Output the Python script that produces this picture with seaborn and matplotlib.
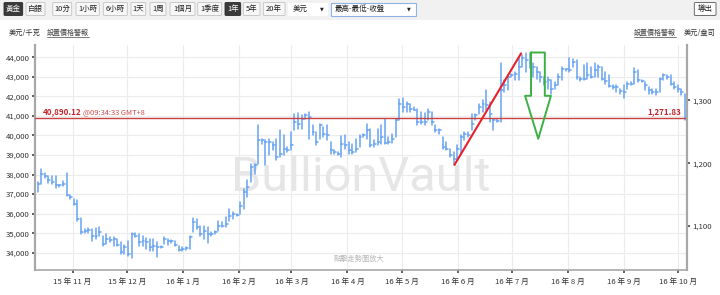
import numpy as np
import pandas as pd
import matplotlib
matplotlib.use("Agg")
import matplotlib.pyplot as plt
import matplotlib.dates as mdates
import matplotlib.ticker as mticker
from matplotlib.patches import FancyBboxPatch, Rectangle, Polygon
from matplotlib.lines import Line2D
import seaborn as sns

# ---------------- data ----------------
start_date = "2015-10-13"
bar_step = "2D"

high = [
    37612, 38296, 38091, 37920, 37920, 37920, 37475, 37646, 38074, 36962,
    36757, 36706, 35765, 35218, 35252, 35218, 35252, 35303, 34876, 34962,
    34790, 34790, 34705, 34534, 34398, 34620, 35000, 35000, 34962, 34876,
    34739, 34705, 34705, 34534, 34363, 34790, 34705,
    34654, 34620, 34363, 34278, 34278, 34876, 35765, 35731, 35389, 35355,
    35303, 35081, 35132, 35646, 35560, 35816, 36244, 36073, 35988, 36620,
    37236, 37697, 38553, 38553, 40553, 39835, 39750, 39835, 39664, 39835,
    40262, 40006, 39408, 40177, 41117,
    41160, 41033, 41118, 41204, 40520, 40178, 40605, 40434, 40520, 39665,
    39237, 39152, 39955, 40007, 39665, 39579, 39835, 40007, 40092, 40605,
    40349, 39750, 40349, 40520, 40862, 39921, 40092, 40862, 41888, 41939,
    41717, 41631, 41460, 41375, 41204, 41152,
    41374, 41203, 40519, 40348, 39920, 39664, 39322, 39151, 39493, 40006, 40177, 40177,
    41118, 41118, 41631, 41802, 42315, 41716, 40862, 40862, 43683, 42828,
    43085, 43170, 43256, 44025, 44111, 44196, 44196, 43683, 43512, 43256,
    43000, 43000, 42828, 42743, 43170,
    43512, 43426, 43939, 43905, 43854, 43000, 43597, 43683, 43512, 43683,
    43597, 43512, 43255, 43084, 42571, 42571, 42400, 42571, 42742, 42742,
    43460, 43340, 42828, 42742, 42485, 42400, 42400, 42947, 43170, 43084,
    43084, 42742, 42571, 42400, 42144,
]
low = [
    37099, 37527, 37817, 37578, 37527, 37304, 37355, 37407, 36894, 36757,
    36449, 35645, 34962, 35013, 35013, 34620, 34705, 34876, 34363, 34449,
    34534, 34329, 34363, 33936, 33936, 33850, 33713, 34790, 34363, 34363,
    34192, 34106, 34106, 33765, 34226, 34449, 34398,
    34500, 34363, 34106, 34106, 34158, 34192, 35047, 35218, 34876, 34705,
    34500, 34876, 34962, 35132, 35303, 35303, 35646, 35731, 35902, 35988,
    36244, 36842, 37612, 38040, 38553, 39578, 38467, 38980, 39237, 38724,
    38895, 38980, 39151, 39237, 40262,
    40350, 40349, 40862, 39835, 40006, 39494, 39835, 39921, 39750, 39066,
    39032, 39015, 38895, 39323, 39066, 39032, 39152, 39408, 39921, 39835,
    39408, 39408, 39494, 39579, 39545, 39579, 39613, 39921, 40776, 41204,
    41204, 41204, 41289, 40520, 40605, 40520,
    40776, 40519, 40177, 40092, 39322, 39236, 38894, 38552, 38809, 39066, 39749, 39920,
    40263, 40776, 41118, 41204, 41289, 40690, 40263, 40690, 40690, 42229,
    42315, 43000, 42828, 42828, 43512, 43256, 43427, 43000, 42914, 42743,
    42572, 42400, 42144, 42400, 42572,
    42828, 43289, 43255, 43512, 42913, 42793, 42828, 42913, 42947, 43000,
    43000, 42828, 42657, 42485, 42400, 42229, 42144, 41921, 42400, 42571,
    42657, 42742, 42742, 42315, 42144, 42144, 42058, 42229, 42828, 42913,
    42571, 42400, 42229, 42092, 40775,
]
close = [
    37530, 38040, 37950, 37700, 37610, 37440, 37440, 37520, 36930, 36840,
    36500, 35700, 35080, 35130, 35180, 34876, 34840, 35050, 34450, 34705,
    34650, 34705, 34400, 34020, 34277, 33936, 34960, 34876, 34534, 34620,
    34534, 34277, 34363, 34277, 34310, 34705, 34620,
    34620, 34414, 34157, 34192, 34226, 34790, 35560, 35303, 34962, 35132,
    34962, 34962, 35047, 35389, 35389, 35474, 35902, 35988, 35936, 36415,
    37100, 37356, 38382, 38467, 39750, 39750, 39664, 39664, 39493, 38895,
    39066, 39322, 39237, 39493, 40690,
    40600, 40862, 41033, 40947, 40178, 39665, 40520, 40092, 40007, 39237,
    39152, 39066, 39579, 39494, 39237, 39152, 39323, 39921, 40007, 40263,
    39494, 39579, 39665, 39921, 39613, 39665, 39835, 40776, 41631, 41460,
    41631, 41375, 41323, 40690, 40690, 40690,
    41203, 40690, 40262, 40262, 39408, 39322, 38980, 38809, 39322, 39921, 40092, 40006,
    40605, 41033, 41460, 41631, 41546, 41118, 40776, 40742, 42315, 42572,
    43000, 43085, 43170, 43512, 43940, 43854, 43683, 43512, 43256, 43000,
    42742, 42828, 42400, 42572, 43000,
    43426, 43392, 43340, 43768, 43000, 42913, 42879, 43084, 43000, 43340,
    43511, 42913, 42776, 42537, 42485, 42485, 42263, 42229, 42657, 42657,
    43255, 42828, 42776, 42571, 42315, 42229, 42229, 42913, 43084, 43000,
    42657, 42485, 42400, 42229, 40890.12,
]

last_price_kg = 40890.12
last_price_oz = 1271.83
last_time = "@09:34:33 GMT+8"
oz_per_kg = 32.1507

left_ticks = [34000, 35000, 36000, 37000, 38000, 39000, 40000, 41000, 42000, 43000, 44000]
right_ticks = [1100, 1200, 1300]
month_ticks = ["2015-11-01", "2015-12-01", "2016-01-01", "2016-02-01", "2016-03-01",
               "2016-04-01", "2016-05-01", "2016-06-01", "2016-07-01", "2016-08-01",
               "2016-09-01", "2016-10-01"]
month_labels = ["15 年 11 月", "15 年 12 月", "16 年 1 月", "16 年 2 月", "16 年 3 月",
                "16 年 4 月", "16 年 5 月", "16 年 6 月", "16 年 7 月", "16 年 8 月",
                "16 年 9 月", "16 年 10 月"]

x_range = ["2015-10-11 05:00", "2016-10-05 18:00"]
y_range = [33115, 44629]

# annotation (hand-drawn) shapes
trend_dates = ["2016-05-30 03:00", "2016-07-06 00:00"]
trend_vals = [38490, 44200]
arrow_dates = ["2016-07-11 12:00", "2016-07-19 03:00", "2016-07-19 03:00", "2016-07-22 12:00",
               "2016-07-15 12:00", "2016-07-08 05:00", "2016-07-11 12:00", "2016-07-11 12:00"]
arrow_vals = [44245, 44245, 42030, 42030, 39830, 42030, 42030, 44245]

toolbar_metals = ["黃金", "白銀"]
toolbar_ranges = ["10分", "1小時", "6小時", "1天", "1周", "1個月", "1季度", "1年", "5年", "20年"]

# ---------------- style ----------------
sns.set_theme(style="white")
plt.rcParams["font.family"] = ["Noto Sans CJK TC", "DejaVu Sans"]

W, H = 720, 295
fig = plt.figure(figsize=(W / 100, H / 100), dpi=100)
fig.patch.set_facecolor("white")

def fx(x):
    return x / W

def fy(y):
    return 1 - y / H

L, R, T, B = 35, 687, 45, 270
ax = fig.add_axes([fx(L), fy(B), fx(R) - fx(L), fy(T) - fy(B)])
ax.set_facecolor("white")

bar_color = "#66a3f2"
dates = pd.date_range(start_date, periods=len(high), freq=bar_step) - pd.Timedelta(hours=8)
n = len(dates)

seg = pd.DataFrame({
    "date": np.repeat(dates.values, 2),
    "price": np.column_stack([low, high]).ravel(),
    "bar": np.repeat(np.arange(n), 2),
})
sns.lineplot(data=seg, x="date", y="price", units="bar", estimator=None, sort=False,
             color=bar_color, lw=1.1, ax=ax, legend=False, zorder=3)

tick_dates = np.column_stack([dates.values, (dates + pd.Timedelta(hours=26)).values]).ravel()
ticks = pd.DataFrame({
    "date": tick_dates,
    "price": np.repeat(close, 2),
    "bar": np.repeat(np.arange(n), 2),
})
sns.lineplot(data=ticks, x="date", y="price", units="bar", estimator=None, sort=False,
             color=bar_color, lw=1.1, ax=ax, legend=False, zorder=3)

# trend line
trend = pd.DataFrame({"date": pd.to_datetime(trend_dates), "price": trend_vals})
sns.lineplot(data=trend, x="date", y="price", color="#e8202a", lw=1.5, ax=ax,
             legend=False, zorder=5)

# arrow outline
arr = pd.DataFrame({"date": pd.to_datetime(arrow_dates), "price": arrow_vals, "k": 0})
sns.lineplot(data=arr, x="date", y="price", units="k", estimator=None, sort=False,
             color="#3cb043", lw=1.4, ax=ax, legend=False, zorder=5)

# last price line
ax.axhline(last_price_kg, color="#c84040", lw=1.0, zorder=4)
yt = ax.get_yaxis_transform()
t1 = ax.text((42.7 - L) / (R - L), last_price_kg + 90, f"{last_price_kg:,.2f}", transform=yt,
             fontsize=5.8, fontweight="bold", color="#c0282d", va="bottom", ha="left", zorder=6)
ax.annotate(last_time, xy=(1, 0), xycoords=t1, xytext=(1.2, 0), textcoords="offset points",
            fontsize=5.4, color="#cf4a4a", va="bottom", ha="left", zorder=6)
ax.text((681 - L) / (R - L), last_price_kg + 90, f"{last_price_oz:,.2f}", transform=yt,
        fontsize=5.8, fontweight="bold", color="#c0282d", va="bottom", ha="right", zorder=6)

# watermark
ax.text(0.5, 0.35, "BullionVault", transform=ax.transAxes, fontsize=35, family="Roboto",
        color="#e6e6e6", ha="center", va="baseline", zorder=1)
ax.text((359.5 - L) / (R - L), (B - 259) / (B - T), "點擊走勢圖放大", transform=ax.transAxes,
        fontsize=5.2, color="#b8b8b8", ha="center", va="center", zorder=2)

# axes
ax.set_xlim(pd.to_datetime(x_range[0]), pd.to_datetime(x_range[1]))
ax.set_ylim(*y_range)
ax.set_xticks(pd.to_datetime(month_ticks))
ax.set_xticklabels(month_labels)
ax.set_yticks(left_ticks)
ax.yaxis.set_major_formatter(mticker.FuncFormatter(lambda v, p: f"{v:,.0f}"))
ax.set_xlabel("")
ax.set_ylabel("")
ax.grid(True, color="#ececec", lw=0.8, zorder=0)
ax.set_axisbelow(True)
ax.tick_params(axis="both", which="major", length=2.5, width=1.1, color="#333333",
               labelsize=5.6, labelcolor="#333333", pad=1.5)
ax.tick_params(axis="y", left=True, right=False)
ax.tick_params(axis="x", bottom=True, pad=3)
for s in ["top", "right"]:
    ax.spines[s].set_visible(False)
ax.spines["left"].set_color("#a8a8a8")
ax.spines["left"].set_linewidth(1.6)
ax.spines["bottom"].set_color("#a8a8a8")
ax.spines["bottom"].set_linewidth(1.2)

ax2 = ax.twinx()
ax2.set_ylim(y_range[0] / oz_per_kg, y_range[1] / oz_per_kg)
ax2.set_yticks(right_ticks)
ax2.yaxis.set_major_formatter(mticker.FuncFormatter(lambda v, p: f"{v:,.0f}"))
ax2.tick_params(axis="y", right=True, length=2.5, width=1.1, color="#333333",
                labelsize=5.6, labelcolor="#333333", pad=1.5)
for s in ["top", "left", "bottom"]:
    ax2.spines[s].set_visible(False)
ax2.spines["right"].set_color("#a8a8a8")
ax2.spines["right"].set_linewidth(1.6)
ax2.grid(False)

# ---------------- toolbar ----------------
fig.add_artist(Rectangle((0, fy(20)), 1, fy(0) - fy(20), transform=fig.transFigure,
                         fc="#f1f1f1", ec="none", zorder=0))

def button(x0, x1, label, dark=False, y0=2.5, y1=15.5, fc="#f7f7f7", ec="#c2c2c2", tc="#222222", fs=5.4):
    if dark:
        fc, ec, tc = "#3a3a3a", "#2a2a2a", "white"
    fig.add_artist(FancyBboxPatch((fx(x0), fy(y1)), fx(x1) - fx(x0), fy(y0) - fy(y1),
                                  boxstyle="round,pad=0,rounding_size=0.0025",
                                  transform=fig.transFigure, fc=fc, ec=ec, lw=0.6, zorder=2))
    fig.text(fx((x0 + x1) / 2), fy((y0 + y1) / 2 + 0.3), label, ha="center", va="center",
             fontsize=fs, color=tc, zorder=3)

metal_pos = [(4, 22.7), (26, 45)]
for (a, b), lab in zip(metal_pos, toolbar_metals):
    button(a, b, lab, dark=(lab == "黃金"))
range_pos = [(52.7, 71.7), (76, 99.3), (103.3, 127.3), (131, 145.7), (150, 166),
             (170, 195), (197.7, 221.7), (225, 240.7), (243.3, 260), (263.3, 285)]
for (a, b), lab in zip(range_pos, toolbar_ranges):
    button(a, b, lab, dark=(lab == "1年"))

# currency dropdown
fig.add_artist(Rectangle((fx(288), fy(15.5)), fx(328) - fx(288), fy(2.5) - fy(15.5),
                         transform=fig.transFigure, fc="white", ec="none", zorder=2))
fig.text(fx(293), fy(9.3), "美元", fontsize=5.4, color="#222222", ha="left", va="center", zorder=3)
fig.text(fx(321.7), fy(9.3), "▼", fontsize=3.5, color="#222222", ha="center", va="center",
         family="DejaVu Sans", zorder=3)
# chart type dropdown
fig.add_artist(Rectangle((fx(331), fy(15.5)), fx(416) - fx(331), fy(2.5) - fy(15.5),
                         transform=fig.transFigure, fc="white", ec="#8db3e8", lw=0.8, zorder=2))
fig.text(fx(335), fy(9.3), "最高-最低-收盤", fontsize=5.4, color="#222222", ha="left", va="center", zorder=3)
fig.text(fx(409.3), fy(9.3), "▼", fontsize=3.5, color="#222222", ha="center", va="center",
         family="DejaVu Sans", zorder=3)
# export button
button(694.3, 716, "導出", fc="white", ec="#555555")

# second row labels
fig.text(fx(9), fy(33), "美元/千克", fontsize=5.2, color="#333333", ha="left", va="center")
fig.text(fx(47), fy(33), "設置價格警報", fontsize=5.0, color="#444444", ha="left", va="center")
fig.add_artist(Line2D([fx(47), fx(89)], [fy(37.3), fy(37.3)], transform=fig.transFigure,
                      color="#444444", lw=0.5))
fig.text(fx(676), fy(33), "設置價格警報", fontsize=5.0, color="#444444", ha="right", va="center")
fig.add_artist(Line2D([fx(633.5), fx(676)], [fy(37.3), fy(37.3)], transform=fig.transFigure,
                      color="#444444", lw=0.5))
fig.text(fx(716), fy(33), "美元/盎司", fontsize=5.2, color="#333333", ha="right", va="center")

fig.savefig("out.png", dpi=100, facecolor="white")
